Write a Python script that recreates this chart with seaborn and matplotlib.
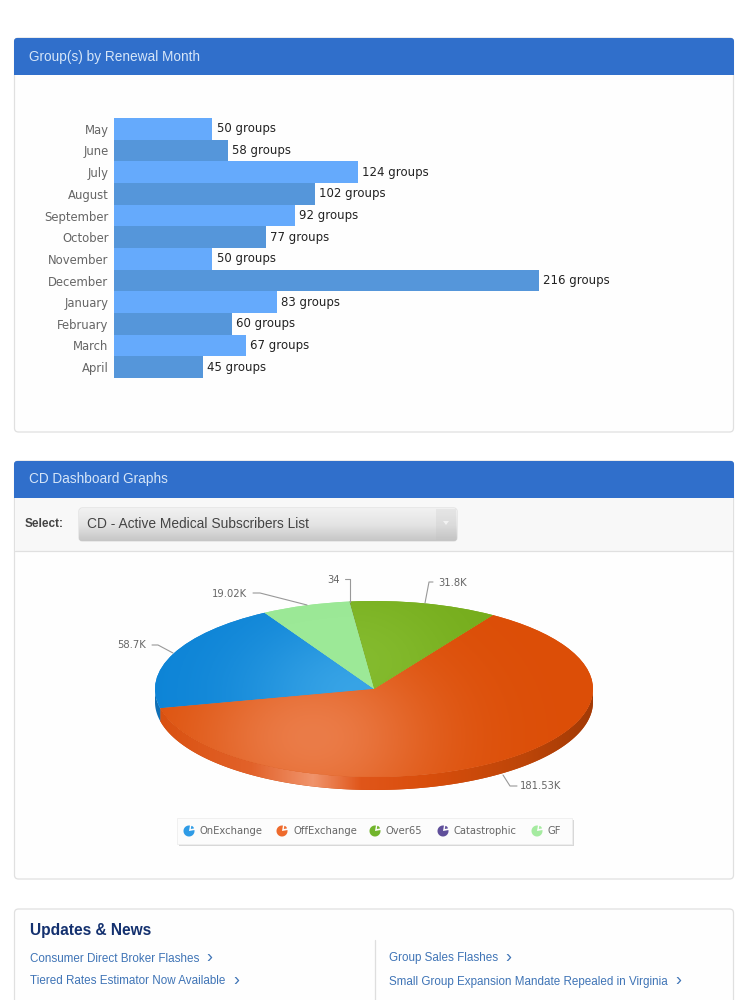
import numpy as np
import pandas as pd
import seaborn as sns
import matplotlib.pyplot as plt
from matplotlib.colors import LinearSegmentedColormap, to_rgb
from matplotlib.patches import FancyBboxPatch, Rectangle, Polygon, Wedge

# Bar chart data
months = ['May', 'June', 'July', 'August', 'September', 'October', 'November',
          'December', 'January', 'February', 'March', 'April']
group_counts = [50, 58, 124, 102, 92, 77, 50, 216, 83, 60, 67, 45]

# Pie chart data
segments = ['OnExchange', 'OffExchange', 'Over65', 'Catastrophic', 'GF']
subscribers = [58700, 181530, 31800, 34, 19020]
pie_labels = ['58.7K', '181.53K', '31.8K', '34', '19.02K']

news_left = ['Consumer Direct Broker Flashes', 'Tiered Rates Estimator Now Available']
news_right = ['Group Sales Flashes', 'Small Group Expansion Mandate Repealed in Virginia']

W, H = 750, 1000
SANS = ['Liberation Sans', 'DejaVu Sans']


def px_axes(left, top, right, bottom):
    # axes placed using pixel coordinates of the page
    return fig.add_axes([left / W, 1 - bottom / H, (right - left) / W, (bottom - top) / H])


def panel(ax, top, bottom, title=None):
    ax.add_patch(FancyBboxPatch((14.5, top), 719, bottom - top, boxstyle='round,pad=0,rounding_size=4',
                                fc='#FEFEFE', ec='#E0E0E0', lw=0.9))
    if title:
        ax.add_patch(FancyBboxPatch((14, top), 720, 37, boxstyle='round,pad=0,rounding_size=3',
                                    fc='#306FCB', ec='none'))
        ax.add_patch(Rectangle((14, top + 10), 720, 27, fc='#306FCB', ec='none'))
        ax.text(29, top + 18.5, title, color='#D5E5F8', fontsize=9.8, family=SANS, va='center')


sns.set_theme(style='white')
fig = plt.figure(figsize=(7.5, 10), dpi=100, facecolor='white')

# page furniture
page = fig.add_axes([0, 0, 1, 1], zorder=0)
page.axis('off')
panel(page, 38, 432, 'Group(s) by Renewal Month')
panel(page, 461, 879, 'CD Dashboard Graphs')
panel(page, 909, 1012)

page.add_patch(Rectangle((15, 498), 718, 53, fc='#F8F8F8', ec='none'))
page.plot([15, 733], [551, 551], color='#E0E0E0', lw=0.9)
page.text(25, 524, 'Select:', fontsize=8.5, fontweight='bold', color='#444444', family=SANS, va='center')

# dropdown with vertical gradient
dropdown = FancyBboxPatch((79, 508), 378, 33, boxstyle='round,pad=0,rounding_size=3',
                          fc='#DDDDDD', ec='#D4D4D4', lw=0.6)
page.add_patch(dropdown)
shade = LinearSegmentedColormap.from_list('shade', ['#F1F1F1', '#E4E4E4', '#C6C6C6'])
img = page.imshow(np.linspace(0, 1, 64).reshape(-1, 1), cmap=shade, extent=(79, 457, 541, 508),
                  aspect='auto', zorder=1.5)
img.set_clip_path(dropdown)
page.add_patch(Rectangle((436, 509), 20, 31, fc='#BBBBBB', ec='none', alpha=0.2, zorder=2))
page.add_patch(Polygon([[443, 521], [449, 521], [446, 525]], fc='#F2F2F2', ec='none', zorder=3))
page.text(87, 524.5, 'CD - Active Medical Subscribers List', fontsize=9.9, color='#444444',
          family=SANS, va='center', zorder=3)

# updates and news
page.text(30, 930, 'Updates & News', fontsize=11.2, fontweight='bold', color='#14316F', family=SANS, va='center')
page.plot([374.5, 374.5], [940, 1000], color='#DEDEDE', lw=0.9)
for x, items, chevrons in [(30, news_left, [209, 236]), (389, news_right, [508, 678])]:
    for y, item, cx in zip([958.5, 981.5], items, chevrons):
        page.text(x, y, item, fontsize=8.35, color='#3F74B6', family=SANS, va='center')
        page.text(cx, y - 1, '\u203a', fontsize=13, color='#3F74B6', family=SANS, va='center', ha='center')

# legend box
page.add_patch(Rectangle((179, 820), 395, 26, fc='#D8D8D8', ec='none'))
page.add_patch(Rectangle((177, 818), 395, 26, fc='#FCFCFC', ec='#EEEEEE', lw=0.6))
legend_colors = ['#2E9BE6', '#EE6A2C', '#72B52C', '#5F4F9A', '#A5EBA0']
icon_x = [189, 282, 375, 443, 537]
text_x = [200, 293, 386, 454, 548]
for name, color, ix, tx in zip(segments, legend_colors, icon_x, text_x):
    page.add_patch(Wedge((ix, 831), 5.5, -10, 280, fc=color, ec='none', zorder=2))
    page.add_patch(Wedge((ix + 1.8, 829), 3.2, 280, 350, fc=color, ec='none', zorder=2))
    page.text(tx, 831, name, fontsize=7.2, color='#666666', va='center', zorder=2)

page.set_xlim(0, W)
page.set_ylim(H, 0)

# bar chart
bar_df = pd.DataFrame({'month': months, 'groups': group_counts})
bar_colors = ['#65AAFC' if i % 2 == 0 else '#5596DA' for i in range(len(months))]
bar_ax = px_axes(114, 118, 114 + 620, 378)
bar_ax.patch.set_alpha(0)
bar_ax.set_zorder(1)
sns.barplot(data=bar_df, y='month', x='groups', hue='month', palette=bar_colors, legend=False,
            width=1.0, saturation=1, edgecolor='none', linewidth=0, ax=bar_ax)
bar_ax.set_xlim(0, 620 / (425 / 216))
bar_ax.set_ylim(11.5, -0.5)
bar_ax.set_xlabel('')
bar_ax.set_ylabel('')
bar_ax.set_xticks([])
sns.despine(ax=bar_ax, left=True, bottom=True)
bar_ax.tick_params(axis='y', length=0, pad=4, labelsize=8.4, labelcolor='#666666')
for container in bar_ax.containers:
    bar_ax.bar_label(container, fmt='%d groups', padding=3, fontsize=8.5, color='#222222')

# pie chart, the ellipse comes from letting the axes stretch the circle
RX, RY = 219, 88
CX, CY = 374, 689
DEPTH = 13 / RY
pie_ax = px_axes(CX - RX - 10, CY - RY - 10, CX + RX + 10, CY + RY + 24)
pie_ax.set_zorder(1)
pie_ax.patch.set_alpha(0)
xlim = (-(RX + 10) / RX, (RX + 10) / RX)
ylim = (-(RY + 24) / RY, (RY + 10) / RY)
grid_x, grid_y = np.meshgrid(np.linspace(-1.1, 1.1, 300), np.linspace(ylim[0], ylim[1], 200))

# side of the pie
start = 120
off_start = np.deg2rad(start + 360 * subscribers[0] / sum(subscribers))
theta = np.linspace(off_start, 2 * np.pi, 120)
rim_shape = Polygon(np.vstack([np.column_stack([np.cos(theta), np.sin(theta) - DEPTH]),
                               np.column_stack([np.cos(theta[::-1]), np.sin(theta[::-1])])]),
                    fc='#C9480C', ec='none')
pie_ax.add_patch(rim_shape)
rim_cmap = LinearSegmentedColormap.from_list('rim', [
    (0.0, '#D9500F'), (0.22, '#E2622A'), (0.36, '#F0946C'), (0.47, '#E0561A'),
    (0.62, '#D94E0C'), (0.85, '#BC4508'), (1.0, '#A23A06')])
rim_img = pie_ax.imshow(np.linspace(0, 1, 256).reshape(1, -1), cmap=rim_cmap, extent=(-1, 1, -2, 2),
                        aspect='auto', zorder=1.5)
rim_img.set_clip_path(rim_shape)
# the blue wedge shows a little of its side on the far left
blue_theta = np.linspace(np.pi, off_start, 30)
pie_ax.add_patch(Polygon(np.vstack([np.column_stack([np.cos(blue_theta), np.sin(blue_theta) - DEPTH]),
                                    np.column_stack([np.cos(blue_theta[::-1]), np.sin(blue_theta[::-1])])]),
                         fc='#0F6FB5', ec='none', zorder=1.6))

# top of the pie
base_colors = ['#0C83D6', '#DC4E07', '#74AB1A', '#5F4F9A', '#9BE896']
glow_colors = ['#38A4E6', '#EB7C48', '#84BB2E', '#5F4F9A', '#9DEA98']
glow_spots = [(-0.05, -0.05, 0.55, 0.9), (-0.28, -0.55, 0.55, 1.0), (-0.1, 0.3, 0.5, 0.9),
              (0, 0, 1, 1), (0, 0, 1, 1)]
wedges, _ = pie_ax.pie(subscribers, colors=base_colors, startangle=start, counterclock=True,
                       radius=1, wedgeprops={'linewidth': 0})
pie_ax.set_aspect('auto')
for wedge, c0, c1, (gx, gy, sx, sy) in zip(wedges, base_colors, glow_colors, glow_spots):
    wedge.set_zorder(2)
    amount = np.exp(-((grid_x - gx) ** 2 / sx ** 2 + (grid_y - gy) ** 2 / sy ** 2))[..., None]
    rgb = np.array(to_rgb(c0)) * (1 - amount) + np.array(to_rgb(c1)) * amount
    top = pie_ax.imshow(rgb, extent=(-1.1, 1.1, ylim[0], ylim[1]), origin='lower', aspect='auto', zorder=3)
    top.set_clip_path(wedge)
pie_ax.set_xlim(*xlim)
pie_ax.set_ylim(*ylim)
pie_ax.axis('off')

# leader lines and value labels above the pie
overlay = fig.add_axes([0, 0, 1, 1], zorder=2)
overlay.axis('off')
overlay.set_xlim(0, W)
overlay.set_ylim(H, 0)
leaders = {
    '58.7K': ([152, 158, 173], [645, 645, 653], 146, 645, 'right'),
    '181.53K': ([503, 510, 517], [775, 786, 786], 520, 786, 'left'),
    '31.8K': ([433, 429, 425], [582, 582, 603], 438, 583, 'left'),
    '34': ([345, 350, 350], [579, 579, 602], 340, 580, 'right'),
    '19.02K': ([253, 260, 307], [593, 593, 605], 247, 594, 'right'),
}
for label in pie_labels:
    xs, ys, tx, ty, align = leaders[label]
    overlay.plot(xs, ys, color='#999999', lw=0.8)
    overlay.text(tx, ty, label, fontsize=7.2, color='#666666', ha=align, va='center')

plt.savefig('out.png', dpi=100)
plt.close()
